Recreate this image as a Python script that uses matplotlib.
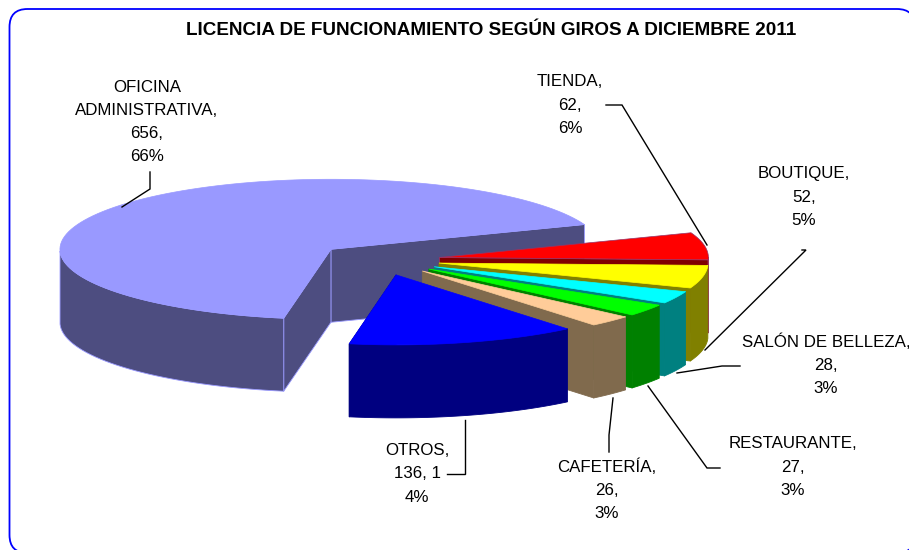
import numpy as np
import matplotlib
matplotlib.use('Agg')
import matplotlib.pyplot as plt
from matplotlib.patches import FancyBboxPatch

# Datos
giros = ['OFICINA\nADMINISTRATIVA,', 'TIENDA,', 'BOUTIQUE,', 'SALÓN DE BELLEZA,',
         'RESTAURANTE,', 'CAFETERÍA,', 'OTROS,']
valores = [656, 62, 52, 28, 27, 26, 136]
porcentajes = ['66%', '6%', '5%', '3%', '3%', '3%', '4%']
valor_txt = ['656,', '62,', '52,', '28,', '27,', '26,', '136, 1']

# Colores
color_top = ['#9999FF', '#FF0000', '#FFFF00', '#00FFFF', '#00FF00', '#FFCC99', '#0000FF']
color_lado = ['#4D4D80', '#800000', '#808000', '#008080', '#008000', '#806A4D', '#000080']
color_borde = ['#9999FF', '#993366', '#808000', '#008080', '#008000', '#806A4D', '#000080']

# Geometria del pie (pixeles)
cx, cy = 381, 260
radio_x = [271, 269, 269, 269, 269, 269, 269]
b = 70
alto = 73
explode = [0.24, 0.22, 0.22, 0.22, 0.22, 0.22, 0.22]
inicio = 20.7  # grados, tienda empieza aqui y avanza en sentido horario

plt.rcParams['font.family'] = ['Liberation Sans', 'DejaVu Sans']

fig = plt.figure(figsize=(9.09, 5.5), dpi=100)
ax = fig.add_axes([0, 0, 1, 1])
ax.set_xlim(0, 909)
ax.set_ylim(550, 0)
ax.axis('off')

# Marco (se sale por la derecha y por abajo)
ax.add_patch(FancyBboxPatch((9.5, 9), 905.5, 544, boxstyle='round,pad=0,rounding_size=18',
                            fc='white', ec='#0000FF', lw=1.3))

ax.text(491, 30.5, 'LICENCIA DE FUNCIONAMIENTO SEGÚN GIROS A DICIEMBRE 2011',
        ha='center', va='center', fontsize=13.55, fontweight='bold', color='black')

# Angulos de cada rebanada
total = sum(valores)
spans = [v / total * 360 for v in valores]
limites = {}
t = inicio
for i in range(1, len(valores)):
    limites[i] = (t - spans[i], t)
    t -= spans[i]
limites[0] = (inicio, inicio + spans[0])


def rebanada(i):
    t0, t1 = limites[i]
    m = np.radians((t0 + t1) / 2)
    ox = cx + explode[i] * radio_x[i] * np.cos(m)
    oy = cy - explode[i] * b * np.sin(m)
    th = np.radians(np.linspace(t0, t1, 120))
    xs = ox + radio_x[i] * np.cos(th)
    ys = oy - b * np.sin(th)
    return ox, oy, xs, ys


def pared(xs, ys, color, borde):
    px = np.concatenate([xs, xs[::-1]])
    py = np.concatenate([ys, (ys + alto)[::-1]])
    ax.fill(px, py, fc=color, ec=borde, lw=0.6, joinstyle='round')


# De atras hacia adelante
for i in range(len(valores)):
    ox, oy, xs, ys = rebanada(i)
    lado = color_lado[i]
    borde = color_borde[i]
    # pared del corte hacia el frente
    if i == 0:
        pared(np.array([ox, xs[0]]), np.array([oy, ys[0]]), lado, borde)
        pared(np.array([ox, xs[-1]]), np.array([oy, ys[-1]]), lado, borde)
    else:
        pared(np.array([ox, xs[0]]), np.array([oy, ys[0]]), lado, borde)
    # pared exterior, solo la parte de abajo de la elipse
    visible = ys >= oy
    if visible.any():
        pared(xs[visible], ys[visible], lado, borde)
    ax.fill(np.r_[ox, xs], np.r_[oy, ys], fc=color_top[i], ec=color_borde[i] if i < 2 else color_top[i], lw=0.5)

# Etiquetas
pos_label = [(147, 122), (570, 105), (804, 197), (826, 365), (793, 467), (607, 490), (417, 474)]
for i in range(len(giros)):
    txt = giros[i] + '\n' + valor_txt[i] + '\n' + porcentajes[i]
    ax.text(pos_label[i][0], pos_label[i][1], txt, ha='center', va='center', fontsize=12.2,
            color='black', linespacing=1.67, clip_on=True)

# Lineas guia
guias = [
    ([150, 150, 122], [172, 189, 207]),
    ([606, 622, 707], [105, 105, 245]),
    ([802, 806, 705], [250, 250, 350]),
    ([740, 722, 677], [366, 366, 373]),
    ([720, 707, 648], [468, 468, 386]),
    ([609, 609, 613], [452, 435, 398]),
    ([447, 465, 465], [474, 474, 420]),
]
for gx, gy in guias:
    ax.plot(gx, gy, color='black', lw=1.0, solid_joinstyle='miter')

fig.savefig('out.png', dpi=100)
